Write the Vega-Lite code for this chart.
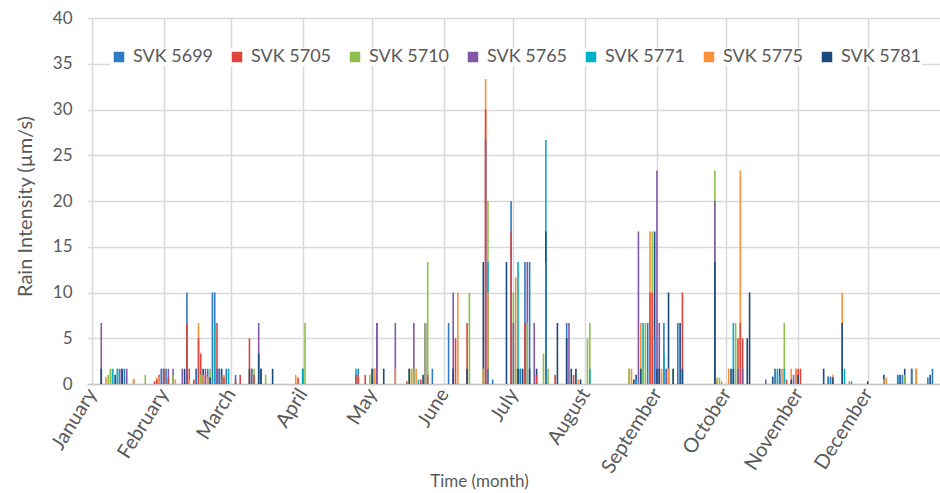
{
"$schema": "https://vega.github.io/schema/vega-lite/v6.json",
"width": 853, "height": 366,
"autosize": {"type": "none"},
"padding": {"left": 87, "top": 18, "right": 0, "bottom": 109},
"background": "white",
"config": {"view": {"stroke": null}, "font": "Lato"},
"data": {"values": [
{"d":"2020-01-05","s":"SVK 5765","v":6.67},{"d":"2020-01-05","s":"SVK 5781","v":1.67},
{"d":"2020-01-07","s":"SVK 5775","v":0.8},{"d":"2020-01-08","s":"SVK 5710","v":1},
{"d":"2020-01-09","s":"SVK 5775","v":1.67},{"d":"2020-01-09","s":"SVK 5710","v":1.67},
{"d":"2020-01-10","s":"SVK 5771","v":1.67},{"d":"2020-01-11","s":"SVK 5781","v":1},
{"d":"2020-01-12","s":"SVK 5699","v":1.67},{"d":"2020-01-12","s":"SVK 5771","v":1.67},
{"d":"2020-01-13","s":"SVK 5765","v":1.67},{"d":"2020-01-14","s":"SVK 5699","v":1.67},
{"d":"2020-01-14","s":"SVK 5781","v":1.67},{"d":"2020-01-15","s":"SVK 5699","v":1.67},
{"d":"2020-01-16","s":"SVK 5765","v":1.67},{"d":"2020-01-19","s":"SVK 5705","v":0.5},
{"d":"2020-01-19","s":"SVK 5775","v":0.5},{"d":"2020-01-24","s":"SVK 5710","v":1},
{"d":"2020-01-28","s":"SVK 5705","v":0.3},{"d":"2020-01-29","s":"SVK 5705","v":0.5},
{"d":"2020-01-29","s":"SVK 5775","v":0.7},{"d":"2020-01-30","s":"SVK 5705","v":1},
{"d":"2020-01-30","s":"SVK 5775","v":0.8},{"d":"2020-01-31","s":"SVK 5765","v":1.67},
{"d":"2020-01-31","s":"SVK 5699","v":1.67},{"d":"2020-02-01","s":"SVK 5781","v":1.67},
{"d":"2020-02-01","s":"SVK 5705","v":1.67},{"d":"2020-02-02","s":"SVK 5699","v":1.67},
{"d":"2020-02-03","s":"SVK 5765","v":1.67},{"d":"2020-02-03","s":"SVK 5705","v":0.7},
{"d":"2020-02-05","s":"SVK 5765","v":1.67},{"d":"2020-02-05","s":"SVK 5710","v":1},
{"d":"2020-02-06","s":"SVK 5775","v":0.5},{"d":"2020-02-09","s":"SVK 5765","v":1.67},
{"d":"2020-02-10","s":"SVK 5781","v":1.67},{"d":"2020-02-11","s":"SVK 5699","v":10},
{"d":"2020-02-11","s":"SVK 5705","v":6.67},{"d":"2020-02-11","s":"SVK 5765","v":1.67},
{"d":"2020-02-12","s":"SVK 5705","v":1.67},{"d":"2020-02-12","s":"SVK 5775","v":0.5},
{"d":"2020-02-14","s":"SVK 5705","v":0.5},{"d":"2020-02-15","s":"SVK 5771","v":1.67},
{"d":"2020-02-15","s":"SVK 5699","v":1.67},{"d":"2020-02-16","s":"SVK 5775","v":6.67},
{"d":"2020-02-16","s":"SVK 5705","v":5},{"d":"2020-02-17","s":"SVK 5705","v":3.33},
{"d":"2020-02-17","s":"SVK 5710","v":1},{"d":"2020-02-18","s":"SVK 5781","v":1.67},
{"d":"2020-02-18","s":"SVK 5775","v":1},{"d":"2020-02-19","s":"SVK 5705","v":1},
{"d":"2020-02-19","s":"SVK 5765","v":1.67},{"d":"2020-02-20","s":"SVK 5699","v":1.67},
{"d":"2020-02-20","s":"SVK 5775","v":0.8},{"d":"2020-02-21","s":"SVK 5710","v":1.67},
{"d":"2020-02-21","s":"SVK 5781","v":0.7},{"d":"2020-02-22","s":"SVK 5699","v":10},
{"d":"2020-02-23","s":"SVK 5699","v":10},{"d":"2020-02-23","s":"SVK 5771","v":6.67},
{"d":"2020-02-24","s":"SVK 5705","v":6.67},{"d":"2020-02-24","s":"SVK 5765","v":1.67},
{"d":"2020-02-25","s":"SVK 5781","v":1.67},{"d":"2020-02-25","s":"SVK 5699","v":1.67},
{"d":"2020-02-26","s":"SVK 5705","v":1},{"d":"2020-02-26","s":"SVK 5781","v":1.67},
{"d":"2020-02-27","s":"SVK 5705","v":0.7},{"d":"2020-02-27","s":"SVK 5775","v":1},
{"d":"2020-02-28","s":"SVK 5699","v":1.67},{"d":"2020-02-29","s":"SVK 5771","v":1.67},
{"d":"2020-03-03","s":"SVK 5699","v":1},{"d":"2020-03-03","s":"SVK 5705","v":0.5},
{"d":"2020-03-05","s":"SVK 5705","v":1},{"d":"2020-03-09","s":"SVK 5705","v":5},
{"d":"2020-03-09","s":"SVK 5781","v":1.67},{"d":"2020-03-10","s":"SVK 5775","v":1.67},
{"d":"2020-03-10","s":"SVK 5699","v":1.67},{"d":"2020-03-11","s":"SVK 5705","v":1},
{"d":"2020-03-11","s":"SVK 5710","v":1.67},{"d":"2020-03-13","s":"SVK 5765","v":6.67},
{"d":"2020-03-13","s":"SVK 5781","v":3.33},{"d":"2020-03-14","s":"SVK 5699","v":1.67},
{"d":"2020-03-14","s":"SVK 5781","v":1.67},{"d":"2020-03-16","s":"SVK 5710","v":1},
{"d":"2020-03-19","s":"SVK 5781","v":1.67},{"d":"2020-03-29","s":"SVK 5775","v":1},
{"d":"2020-03-30","s":"SVK 5705","v":0.7},{"d":"2020-04-01","s":"SVK 5781","v":1.67},
{"d":"2020-04-01","s":"SVK 5771","v":1.67},{"d":"2020-04-02","s":"SVK 5710","v":6.67},
{"d":"2020-04-24","s":"SVK 5771","v":1.67},{"d":"2020-04-24","s":"SVK 5705","v":1},
{"d":"2020-04-25","s":"SVK 5699","v":1.67},{"d":"2020-04-25","s":"SVK 5705","v":1},
{"d":"2020-04-28","s":"SVK 5705","v":1},{"d":"2020-04-30","s":"SVK 5710","v":1},
{"d":"2020-05-01","s":"SVK 5710","v":1.67},{"d":"2020-05-01","s":"SVK 5781","v":1.67},
{"d":"2020-05-02","s":"SVK 5781","v":1.67},{"d":"2020-05-02","s":"SVK 5775","v":1.67},
{"d":"2020-05-03","s":"SVK 5781","v":6.67},{"d":"2020-05-03","s":"SVK 5765","v":6.67},
{"d":"2020-05-06","s":"SVK 5781","v":1.67},{"d":"2020-05-11","s":"SVK 5765","v":6.67},
{"d":"2020-05-11","s":"SVK 5775","v":1.67},{"d":"2020-05-16","s":"SVK 5705","v":0.3},
{"d":"2020-05-17","s":"SVK 5710","v":1.67},{"d":"2020-05-17","s":"SVK 5781","v":1.67},
{"d":"2020-05-18","s":"SVK 5710","v":1.67},{"d":"2020-05-18","s":"SVK 5775","v":1.67},
{"d":"2020-05-19","s":"SVK 5765","v":6.67},{"d":"2020-05-19","s":"SVK 5710","v":1.67},
{"d":"2020-05-20","s":"SVK 5775","v":1.67},{"d":"2020-05-21","s":"SVK 5771","v":0.5},
{"d":"2020-05-22","s":"SVK 5705","v":0.5},{"d":"2020-05-23","s":"SVK 5781","v":1},
{"d":"2020-05-24","s":"SVK 5705","v":6.67},{"d":"2020-05-24","s":"SVK 5781","v":6.67},
{"d":"2020-05-24","s":"SVK 5710","v":6.67},{"d":"2020-05-25","s":"SVK 5710","v":13.33},
{"d":"2020-05-25","s":"SVK 5705","v":1},{"d":"2020-05-27","s":"SVK 5699","v":1.67},
{"d":"2020-06-03","s":"SVK 5699","v":6.67},{"d":"2020-06-05","s":"SVK 5765","v":10},
{"d":"2020-06-05","s":"SVK 5781","v":1.67},{"d":"2020-06-06","s":"SVK 5705","v":5},
{"d":"2020-06-07","s":"SVK 5775","v":10},{"d":"2020-06-11","s":"SVK 5705","v":6.67},
{"d":"2020-06-11","s":"SVK 5781","v":1.67},{"d":"2020-06-12","s":"SVK 5710","v":10},
{"d":"2020-06-18","s":"SVK 5781","v":13.33},{"d":"2020-06-18","s":"SVK 5710","v":1.67},
{"d":"2020-06-18","s":"SVK 5775","v":1.67},{"d":"2020-06-19","s":"SVK 5775","v":33.33},
{"d":"2020-06-19","s":"SVK 5705","v":30},{"d":"2020-06-19","s":"SVK 5765","v":26.67},
{"d":"2020-06-20","s":"SVK 5710","v":20},{"d":"2020-06-20","s":"SVK 5771","v":13.33},
{"d":"2020-06-20","s":"SVK 5775","v":10},{"d":"2020-06-20","s":"SVK 5699","v":1.67},
{"d":"2020-06-22","s":"SVK 5699","v":0.5},{"d":"2020-06-28","s":"SVK 5781","v":13.33},
{"d":"2020-06-30","s":"SVK 5699","v":20},{"d":"2020-06-30","s":"SVK 5705","v":16.67},
{"d":"2020-07-01","s":"SVK 5710","v":10},{"d":"2020-07-01","s":"SVK 5765","v":6.67},
{"d":"2020-07-02","s":"SVK 5775","v":11.67},{"d":"2020-07-02","s":"SVK 5710","v":1.67},
{"d":"2020-07-03","s":"SVK 5771","v":13.33},{"d":"2020-07-03","s":"SVK 5781","v":1.67},
{"d":"2020-07-04","s":"SVK 5771","v":1.67},{"d":"2020-07-04","s":"SVK 5699","v":1.67},
{"d":"2020-07-05","s":"SVK 5781","v":1.67},{"d":"2020-07-06","s":"SVK 5699","v":13.33},
{"d":"2020-07-06","s":"SVK 5705","v":6.67},{"d":"2020-07-07","s":"SVK 5765","v":13.33},
{"d":"2020-07-07","s":"SVK 5710","v":6.67},{"d":"2020-07-08","s":"SVK 5699","v":13.33},
{"d":"2020-07-08","s":"SVK 5781","v":1.67},{"d":"2020-07-10","s":"SVK 5765","v":6.67},
{"d":"2020-07-11","s":"SVK 5781","v":1.67},{"d":"2020-07-11","s":"SVK 5705","v":1},
{"d":"2020-07-14","s":"SVK 5710","v":3.33},{"d":"2020-07-15","s":"SVK 5771","v":26.67},
{"d":"2020-07-15","s":"SVK 5781","v":16.67},{"d":"2020-07-15","s":"SVK 5699","v":13.33},
{"d":"2020-07-16","s":"SVK 5710","v":1.67},{"d":"2020-07-19","s":"SVK 5705","v":1},
{"d":"2020-07-20","s":"SVK 5781","v":6.67},{"d":"2020-07-24","s":"SVK 5699","v":6.67},
{"d":"2020-07-24","s":"SVK 5781","v":5},{"d":"2020-07-25","s":"SVK 5765","v":6.67},
{"d":"2020-07-26","s":"SVK 5781","v":1.67},{"d":"2020-07-27","s":"SVK 5705","v":1},
{"d":"2020-07-28","s":"SVK 5781","v":1.67},{"d":"2020-07-29","s":"SVK 5775","v":0.5},
{"d":"2020-07-30","s":"SVK 5781","v":0.5},{"d":"2020-08-02","s":"SVK 5710","v":5},
{"d":"2020-08-03","s":"SVK 5710","v":6.67},{"d":"2020-08-03","s":"SVK 5771","v":1.67},
{"d":"2020-08-20","s":"SVK 5775","v":1.67},{"d":"2020-08-20","s":"SVK 5710","v":1.67},
{"d":"2020-08-21","s":"SVK 5775","v":1.67},{"d":"2020-08-22","s":"SVK 5781","v":0.5},
{"d":"2020-08-23","s":"SVK 5781","v":1},{"d":"2020-08-23","s":"SVK 5771","v":0.5},
{"d":"2020-08-24","s":"SVK 5765","v":16.67},{"d":"2020-08-25","s":"SVK 5781","v":1.67},
{"d":"2020-08-25","s":"SVK 5775","v":6.67},{"d":"2020-08-26","s":"SVK 5771","v":6.67},
{"d":"2020-08-26","s":"SVK 5710","v":1.67},{"d":"2020-08-27","s":"SVK 5710","v":6.67},
{"d":"2020-08-28","s":"SVK 5699","v":6.67},{"d":"2020-08-29","s":"SVK 5775","v":16.67},
{"d":"2020-08-29","s":"SVK 5705","v":10},{"d":"2020-08-30","s":"SVK 5710","v":16.67},
{"d":"2020-08-30","s":"SVK 5705","v":10},{"d":"2020-08-31","s":"SVK 5781","v":16.67},
{"d":"2020-08-31","s":"SVK 5699","v":5},{"d":"2020-09-01","s":"SVK 5765","v":23.33},
{"d":"2020-09-01","s":"SVK 5781","v":1.67},{"d":"2020-09-02","s":"SVK 5765","v":6.67},
{"d":"2020-09-02","s":"SVK 5781","v":1.67},{"d":"2020-09-03","s":"SVK 5775","v":1.67},
{"d":"2020-09-04","s":"SVK 5699","v":6.67},{"d":"2020-09-04","s":"SVK 5771","v":3.33},
{"d":"2020-09-05","s":"SVK 5710","v":1.67},{"d":"2020-09-05","s":"SVK 5765","v":1.67},
{"d":"2020-09-06","s":"SVK 5781","v":10},{"d":"2020-09-06","s":"SVK 5775","v":1.67},
{"d":"2020-09-08","s":"SVK 5710","v":1.67},{"d":"2020-09-08","s":"SVK 5781","v":1.67},
{"d":"2020-09-10","s":"SVK 5699","v":6.67},{"d":"2020-09-11","s":"SVK 5781","v":6.67},
{"d":"2020-09-12","s":"SVK 5705","v":10},{"d":"2020-09-12","s":"SVK 5781","v":1.67},
{"d":"2020-09-26","s":"SVK 5710","v":23.33},{"d":"2020-09-26","s":"SVK 5765","v":20},
{"d":"2020-09-26","s":"SVK 5781","v":13.33},{"d":"2020-09-27","s":"SVK 5710","v":0.7},
{"d":"2020-09-27","s":"SVK 5775","v":0.5},{"d":"2020-09-28","s":"SVK 5710","v":0.7},
{"d":"2020-09-29","s":"SVK 5775","v":0.3},{"d":"2020-10-02","s":"SVK 5775","v":1.67},
{"d":"2020-10-03","s":"SVK 5781","v":1.67},{"d":"2020-10-04","s":"SVK 5771","v":6.67},
{"d":"2020-10-04","s":"SVK 5781","v":1.67},{"d":"2020-10-05","s":"SVK 5710","v":6.67},
{"d":"2020-10-06","s":"SVK 5765","v":1.67},{"d":"2020-10-06","s":"SVK 5705","v":5},
{"d":"2020-10-07","s":"SVK 5705","v":6.67},{"d":"2020-10-07","s":"SVK 5775","v":23.33},
{"d":"2020-10-08","s":"SVK 5705","v":5},{"d":"2020-10-08","s":"SVK 5765","v":1.67},
{"d":"2020-10-10","s":"SVK 5781","v":5},{"d":"2020-10-11","s":"SVK 5781","v":10},
{"d":"2020-10-18","s":"SVK 5765","v":0.5},{"d":"2020-10-21","s":"SVK 5781","v":0.8},
{"d":"2020-10-22","s":"SVK 5775","v":1.67},{"d":"2020-10-22","s":"SVK 5699","v":1.67},
{"d":"2020-10-23","s":"SVK 5771","v":1.67},{"d":"2020-10-24","s":"SVK 5781","v":1.67},
{"d":"2020-10-24","s":"SVK 5699","v":1},{"d":"2020-10-25","s":"SVK 5775","v":1.67},
{"d":"2020-10-26","s":"SVK 5710","v":6.67},{"d":"2020-10-26","s":"SVK 5771","v":1.67},
{"d":"2020-10-27","s":"SVK 5705","v":0.5},{"d":"2020-10-29","s":"SVK 5775","v":1.67},
{"d":"2020-10-29","s":"SVK 5781","v":0.5},{"d":"2020-10-30","s":"SVK 5765","v":1},
{"d":"2020-10-31","s":"SVK 5705","v":1.67},{"d":"2020-10-31","s":"SVK 5775","v":1.67},
{"d":"2020-11-01","s":"SVK 5781","v":1},{"d":"2020-11-01","s":"SVK 5705","v":1.67},
{"d":"2020-11-02","s":"SVK 5705","v":1.67},{"d":"2020-11-12","s":"SVK 5781","v":1.67},
{"d":"2020-11-14","s":"SVK 5765","v":0.8},{"d":"2020-11-14","s":"SVK 5699","v":0.8},
{"d":"2020-11-15","s":"SVK 5699","v":0.8},{"d":"2020-11-16","s":"SVK 5781","v":0.7},
{"d":"2020-11-16","s":"SVK 5775","v":1},{"d":"2020-11-20","s":"SVK 5775","v":10},
{"d":"2020-11-20","s":"SVK 5781","v":6.67},{"d":"2020-11-21","s":"SVK 5771","v":1.67},
{"d":"2020-11-23","s":"SVK 5775","v":0.3},{"d":"2020-11-24","s":"SVK 5771","v":0.3},
{"d":"2020-12-01","s":"SVK 5781","v":0.3},{"d":"2020-12-08","s":"SVK 5781","v":1},
{"d":"2020-12-08","s":"SVK 5775","v":0.5},{"d":"2020-12-09","s":"SVK 5775","v":0.7},
{"d":"2020-12-14","s":"SVK 5771","v":1},{"d":"2020-12-14","s":"SVK 5699","v":1},
{"d":"2020-12-15","s":"SVK 5781","v":1},{"d":"2020-12-16","s":"SVK 5699","v":1},
{"d":"2020-12-17","s":"SVK 5781","v":1.67},{"d":"2020-12-17","s":"SVK 5710","v":1},
{"d":"2020-12-20","s":"SVK 5781","v":1.67},{"d":"2020-12-20","s":"SVK 5699","v":1.67},
{"d":"2020-12-22","s":"SVK 5705","v":1.67},{"d":"2020-12-22","s":"SVK 5775","v":1.67},
{"d":"2020-12-27","s":"SVK 5699","v":0.7},{"d":"2020-12-28","s":"SVK 5781","v":1},
{"d":"2020-12-29","s":"SVK 5699","v":1.67}
]},
"mark": {"type": "bar", "width": 1.6, "clip": true},
"encoding": {
  "x": {"field": "d", "type": "temporal",
    "scale": {"type": "utc", "nice": false, "domain": [1577836800000, 1609293600000]},
    "axis": {"title": "Time (month)", "format": "%B",
      "values": [1577836800000, 1580515200000, 1583020800000, 1585699200000, 1588291200000, 1590969600000, 1593561600000, 1596240000000, 1598918400000, 1601510400000, 1604188800000, 1606780800000],
      "labelAngle": -58, "labelFontSize": 20, "labelColor": "#595959", "labelPadding": 6, "ticks": false,
      "grid": true, "gridColor": "#d9d9d9", "gridWidth": 1.5,
      "domainColor": "#c8c8c8", "domainWidth": 1.5,
      "titleFontSize": 17, "titleFontWeight": "normal", "titleColor": "#595959",
      "titleX": 392, "titleAlign": "center",
      "titleY": 102, "titleBaseline": "alphabetic", "labelFlush": false, "labelOverlap": false}},
  "y": {"field": "v", "type": "quantitative", "stack": null,
    "scale": {"domain": [0, 40], "nice": false},
    "axis": {"title": "Rain Intensity (µm/s)", "values": [0, 5, 10, 15, 20, 25, 30, 35, 40],
      "labelFontSize": 17, "labelColor": "#595959", "labelPadding": 15, "ticks": false, "domain": false,
      "grid": true, "gridColor": "#d9d9d9", "gridWidth": 1.5,
      "titleFontSize": 20, "titleFontWeight": "normal", "titleColor": "#595959",
      "titleX": -62, "titleY": 188, "titleBaseline": "middle", "titleAlign": "center"}},
  "color": {"field": "s", "type": "nominal",
    "scale": {"domain": ["SVK 5699", "SVK 5705", "SVK 5710", "SVK 5765", "SVK 5771", "SVK 5775", "SVK 5781"],
      "range": ["#2E7BC4", "#E0443C", "#8CC04B", "#8458A8", "#00AFC8", "#F7923A", "#1B4A7C"]},
    "legend": {"title": null, "orient": "none", "legendX": 23, "legendY": 30, "direction": "horizontal", "columns": 7,
      "symbolType": "square", "symbolSize": 110, "symbolStrokeWidth": 0, "labelFontSize": 18, "labelColor": "#595959",
      "labelOffset": 5, "columnPadding": 14, "fillColor": "white"}},
  "order": {"field": "v", "sort": "descending"}
}
}
